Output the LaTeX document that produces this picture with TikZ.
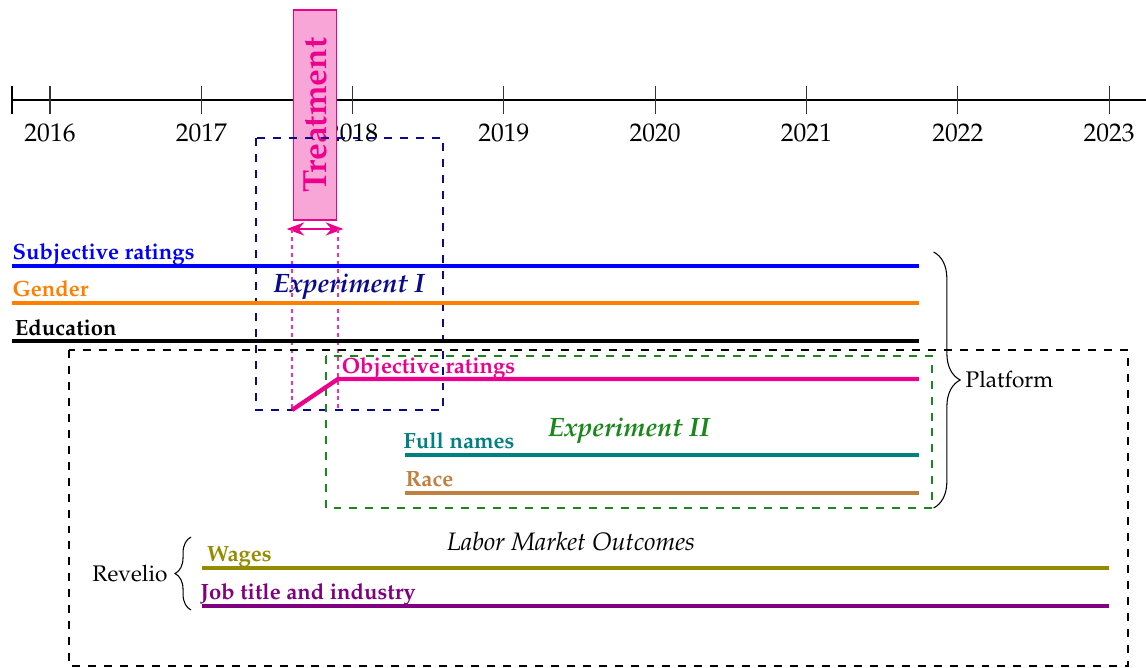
\documentclass[tikz,border=0pt]{standalone}
\usepackage[T1]{fontenc}
\usepackage{mathpazo}
\usepackage{xcolor}
\usepackage{tikz}
\usetikzlibrary{arrows.meta}
\usetikzlibrary{calc}
\usetikzlibrary{decorations.pathreplacing}
\tikzset{>=Stealth}
\definecolor{treat}{RGB}{236,0,140}
\definecolor{expone}{RGB}{10,10,140}
\definecolor{exptwo}{RGB}{25,135,25}
\definecolor{wagecol}{RGB}{150,140,0}
\definecolor{jobcol}{RGB}{128,0,128}

\begin{document}
\begin{tikzpicture}[bar/.style={line width=1.6pt},
  lbl/.style={anchor=base west,inner sep=0pt,font=\fontsize{8.3}{10}\selectfont\bfseries},
  side/.style={font=\fontsize{8.5}{10}\selectfont},
  box/.style={dashed,thick}]

\useasboundingbox (-0.661,1.322) rectangle (14.488,-7.508);

% time axis
\draw[thick] (-0.5,0) -- (14.49,0);
\draw[thick] (-0.5,0.185) -- (-0.5,-0.185);
\foreach \yr [count=\i from 0] in {2016,...,2023}
  \draw[black!80] (2*\i,0.185) -- (2*\i,-0.185) node[below,text=black,font=\fontsize{9.6}{11}\selectfont] {\yr};

% treatment window
\draw node[draw=treat,fill=treat!35,rotate=90,minimum width=2.776cm,minimum height=0.58cm,inner sep=0pt,text=treat,font=\fontsize{12.6}{15}\selectfont\bfseries] at (3.503,-0.198) (treat) {Treatment};
\coordinate (ts) at (3.199,-1.705);
\coordinate (te) at (3.807,-1.705);
\coordinate (obj0) at (3.199,-4.098);
\coordinate (obj1) at (3.807,-3.688);
\draw[<->,treat,thick,shorten <=-2pt,shorten >=-2pt] (ts) -- (te);
\draw[treat!80,thin,dash pattern=on 1.5pt off 1.5pt] (ts) -- (obj0);
\draw[treat!80,thin,dash pattern=on 1.5pt off 1.5pt] (te) -- (te |- obj0);

% experiment boxes
\draw[box,expone] (2.723,-0.502) rectangle (5.195,-4.098);
\draw[box,exptwo] (3.648,-3.384) rectangle (11.659,-5.393);
\draw[box,black] (0.251,-3.305) rectangle (14.25,-7.48);
\draw node[text=expone,font=\bfseries\itshape] at (3.952,-2.472) (e1) {Experiment I};
\draw node[text=exptwo,font=\bfseries\itshape] at (7.654,-4.375) (e2) {Experiment II};

% platform data
\draw[bar,blue] (-0.502,-2.194) -- (11.487,-2.194);
\draw node[lbl,text=blue] at (-0.502,-2.11) (subj) {Subjective ratings};
\draw[bar,orange] (-0.502,-2.683) -- (11.487,-2.683);
\draw node[lbl,text=orange] at (-0.502,-2.60) (gend) {Gender};
\draw[bar,black] (-0.502,-3.186) -- (11.487,-3.186);
\draw node[lbl,text=black] at (-0.47,-3.11) (educ) {Education};
\draw[bar,treat] (obj0) -- (obj1) -- (11.487,-3.688);
\draw node[lbl,text=treat] at (3.85,-3.61) (objr) {Objective ratings};
\draw[bar,teal] (4.693,-4.693) -- (11.487,-4.693);
\draw node[lbl,text=teal] at (4.667,-4.61) (name) {Full names};
\draw[bar,brown] (4.693,-5.195) -- (11.487,-5.195);
\draw node[lbl,text=brown] at (4.693,-5.11) (race) {Race};

\draw[decorate,decoration={brace,amplitude=10pt}] (11.68,-2.009) -- (11.68,-5.393);
\draw node[side,anchor=west] at (11.98,-3.70) (plat) {Platform};

% revelio data
\draw[bar,wagecol] (2.009,-6.186) -- (14.0,-6.186);
\draw node[lbl,text=wagecol] at (2.07,-6.10) (wage) {Wages};
\draw[bar,jobcol] (2.009,-6.689) -- (14.0,-6.689);
\draw node[lbl,text=jobcol] at (1.983,-6.60) (job) {Job title and industry};
\draw node[font=\fontsize{9.5}{11}\selectfont\itshape] at (6.887,-5.830) (lmo) {Labor Market Outcomes};

\draw[decorate,decoration={brace,amplitude=6pt}] (1.864,-6.742) -- (1.864,-5.777);
\draw node[side] at (1.057,-6.266) (rev) {Revelio};

\end{tikzpicture}
\end{document}
